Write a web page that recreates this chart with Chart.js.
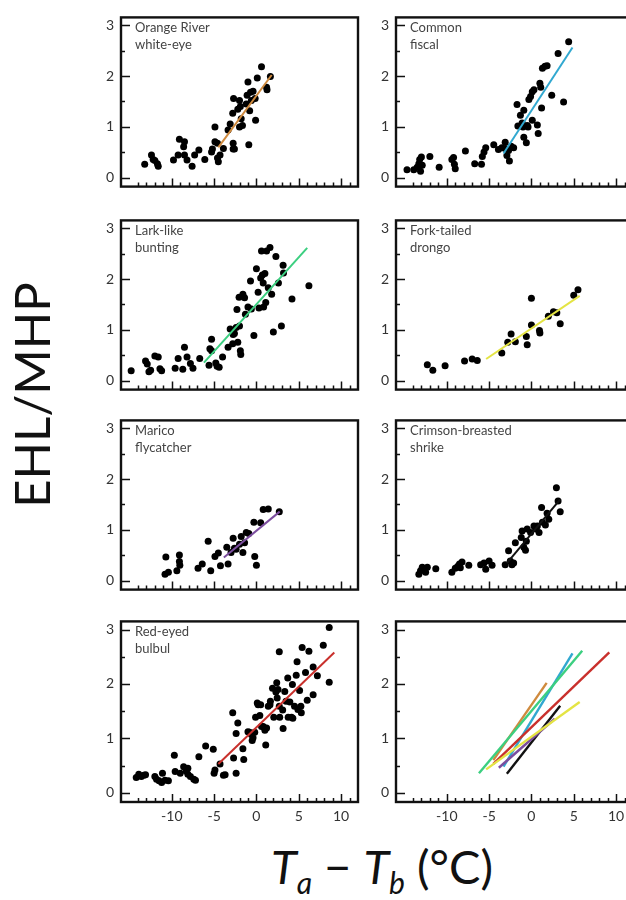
<!DOCTYPE html>
<html>
<head>
<meta charset="utf-8">
<script src="https://cdn.jsdelivr.net/npm/chart.js@4.4.1/dist/chart.umd.min.js"></script>
<style>
  html, body { margin: 0; padding: 0; background: #fff; overflow: hidden; width: 626px; height: 900px; }
  #wrap { position: relative; width: 626px; height: 900px; overflow: hidden; }
  canvas { position: absolute; }
  #ytitle {
    position: absolute; left: 31px; top: 395px;
    transform: translate(-50%, -50%) rotate(-90deg);
    font-family: Lato, sans-serif; font-size: 49px; color: #111; white-space: nowrap;
  }
  #xtitle {
    position: absolute; left: 382px; top: 843px; transform: translateX(-50%);
    font-family: Lato, sans-serif; font-size: 47px; color: #111; white-space: nowrap; line-height: 47px;
  }
  #xtitle i { font-style: italic; }
  #xtitle sub { font-size: 0.64em; font-style: italic; vertical-align: -0.32em; line-height: 0; }
</style>
</head>
<body>
<div id="wrap">
  <div id="ytitle">EHL/MHP</div>
  <div id="xtitle"><i>T</i><sub>a</sub> − <i>T</i><sub>b</sub> (°C)</div>
</div>
<script>
'use strict';
// ******* DATA ********
const xTickLabels = [-10, -5, 0, 5, 10];
const yTickLabels = [0, 1, 2, 3];

const whiteEye = [[-13.2,0.27],[-12.4,0.45],[-12.2,0.36],[-12.0,0.34],[-11.7,0.28],[-11.6,0.23],[-9.8,0.35],[-9.25,0.45],
  [-9.1,0.76],[-8.5,0.71],[-8.6,0.61],[-8.5,0.45],[-8.2,0.35],[-7.6,0.23],[-7.3,0.45],[-6.8,0.55],[-6.1,0.36],[-5.3,0.51],
  [-5.2,0.57],[-4.9,1.0],[-4.9,0.71],[-4.6,0.68],[-4.6,0.39],[-4.5,0.32],[-4.3,0.45],[-3.9,0.58],[-3.35,0.94],[-3.1,1.06],
  [-2.8,1.27],[-2.7,1.56],[-2.75,0.68],[-2.75,0.57],[-2.6,0.57],[-2.2,1.35],[-2.0,1.52],[-1.9,1.4],[-1.8,1.16],[-2.0,1.0],
  [-1.65,1.03],[-1.2,1.45],[-1.1,1.62],[-1.0,1.88],[-0.9,0.65],[-0.8,1.32],[-0.7,1.68],[-0.6,1.52],[-0.4,1.7],[-0.15,1.56],
  [-0.1,1.13],[0.1,1.96],[0.6,2.18],[1.2,1.78],[1.25,1.73],[1.65,1.99]];

const fiscal = [[-14.7,0.16],[-13.9,0.16],[-13.5,0.21],[-13.3,0.28],[-13.2,0.36],[-13.1,0.13],[-13.0,0.41],[-12.9,0.25],
  [-12.0,0.42],[-10.9,0.21],[-9.4,0.36],[-9.2,0.4],[-9.1,0.27],[-9.0,0.18],[-7.8,0.53],[-6.7,0.28],[-5.9,0.27],[-5.8,0.42],
  [-5.6,0.51],[-5.4,0.59],[-4.45,0.65],[-3.9,0.56],[-3.5,0.59],[-3.1,0.7],[-3.1,0.58],[-2.9,0.44],[-2.7,0.54],[-2.6,0.33],
  [-2.4,0.62],[-2.1,0.59],[-1.7,1.44],[-1.6,1.02],[-1.3,1.23],[-1.1,1.08],[-1.0,1.0],[-0.9,1.33],[-0.9,0.8],[-0.6,0.69],
  [-0.5,1.03],[-0.4,1.0],[-0.3,1.54],[-0.1,1.6],[0.1,1.69],[0.1,1.13],[0.3,1.73],[0.7,1.04],[0.8,0.87],[1.0,1.86],
  [1.1,1.78],[1.2,1.37],[1.3,2.15],[1.6,2.19],[1.85,2.2],[2.4,1.62],[3.15,2.44],[3.8,1.49],[4.4,2.67]];

const bunting = [[-14.8,0.2],[-13.1,0.39],[-12.9,0.33],[-12.7,0.18],[-12.5,0.21],[-12.0,0.49],[-11.6,0.47],[-11.4,0.24],
  [-11.2,0.2],[-9.6,0.25],[-9.25,0.44],[-8.7,0.23],[-8.5,0.66],[-8.2,0.47],[-7.8,0.34],[-7.5,0.25],[-6.7,0.44],[-5.6,0.31],
  [-5.5,0.63],[-5.3,0.82],[-5.3,0.59],[-4.8,0.35],[-4.65,0.29],[-4.4,0.27],[-4.0,0.47],[-3.35,0.66],[-3.1,1.02],[-2.8,0.73],
  [-2.75,0.91],[-2.6,0.93],[-2.4,1.05],[-2.3,1.4],[-2.2,0.76],[-2.0,1.08],[-1.9,0.59],[-1.85,0.52],[-2.05,1.64],[-1.6,1.7],
  [-1.4,1.63],[-1.3,1.31],[-1.0,1.45],[-0.7,1.96],[-0.6,1.41],[-0.3,0.89],[0.0,2.2],[0.2,1.74],[0.3,1.43],[0.5,2.02],
  [0.6,2.55],[0.7,2.08],[0.8,1.92],[0.85,1.45],[1.0,2.11],[1.1,1.54],[1.2,2.55],[1.4,1.83],[1.6,2.62],[1.8,1.7],
  [2.0,0.96],[2.3,2.44],[2.6,1.92],[2.95,1.08],[3.15,2.27],[3.2,2.12],[4.2,1.61],[6.2,1.87]];

const drongo = [[-12.3,0.32],[-11.65,0.21],[-10.2,0.3],[-7.9,0.39],[-7.0,0.43],[-6.4,0.4],[-3.5,0.55],[-2.8,0.76],
  [-2.4,0.92],[-1.9,0.77],[-0.6,0.87],[-0.5,0.71],[0.0,1.62],[0.0,1.1],[0.95,0.99],[1.0,0.94],[2.0,1.27],[2.6,1.36],
  [3.0,1.34],[3.4,1.12],[5.0,1.68],[5.5,1.79]];

const flycatcher = [[-10.8,0.13],[-10.7,0.47],[-10.4,0.17],[-9.4,0.2],[-9.1,0.51],[-9.1,0.38],[-9.05,0.31],[-6.9,0.25],
  [-6.4,0.33],[-5.7,0.78],[-5.4,0.2],[-4.9,0.48],[-4.5,0.55],[-4.25,0.3],[-3.5,0.66],[-3.35,0.33],[-3.0,0.56],[-2.75,0.84],
  [-2.6,0.64],[-2.4,0.62],[-2.0,0.72],[-1.8,0.87],[-1.6,0.56],[-1.4,0.75],[-1.2,0.95],[-0.9,0.93],[-0.3,1.15],[-0.2,0.48],
  [0.0,0.31],[0.5,1.14],[0.8,1.4],[1.4,1.41],[2.7,1.36]];

const shrike = [[-13.3,0.13],[-13.1,0.2],[-12.9,0.27],[-12.7,0.23],[-12.5,0.17],[-12.3,0.27],[-11.3,0.24],[-9.4,0.17],
  [-9.0,0.25],[-8.7,0.29],[-8.5,0.33],[-8.2,0.37],[-8.4,0.26],[-7.4,0.31],[-6.0,0.32],[-5.6,0.35],[-5.4,0.23],[-5.0,0.39],
  [-4.65,0.31],[-3.1,0.32],[-2.7,0.59],[-2.5,0.39],[-2.3,0.32],[-2.1,0.35],[-1.9,0.75],[-1.2,0.85],[-1.1,0.98],[-0.9,0.66],
  [-0.7,0.6],[-0.6,0.78],[-0.5,1.02],[-0.1,0.95],[0.3,1.08],[0.5,1.02],[0.7,1.08],[0.9,0.95],[1.2,1.44],[1.3,1.15],
  [1.65,1.1],[1.85,1.33],[2.05,1.21],[2.95,1.83],[3.15,1.57],[3.4,1.36]];

const bulbul = [[-14.2,0.28],[-13.9,0.34],[-13.6,0.3],[-13.3,0.32],[-13.1,0.33],[-12.0,0.3],[-11.8,0.25],[-11.5,0.22],
  [-11.2,0.19],[-11.1,0.36],[-10.8,0.23],[-10.4,0.22],[-9.7,0.69],[-9.6,0.39],[-9.0,0.36],[-8.6,0.48],[-8.3,0.4],[-8.1,0.45],
  [-8.1,0.34],[-7.8,0.3],[-7.4,0.25],[-7.2,0.23],[-6.8,0.66],[-6.0,0.86],[-5.1,0.8],[-5.0,0.36],[-4.9,0.42],[-4.3,0.53],
  [-3.9,0.32],[-3.7,0.33],[-2.8,1.47],[-2.7,0.64],[-2.4,0.36],[-2.4,1.09],[-2.2,1.28],[-1.6,0.81],[-1.5,0.61],[-1.0,1.12],
  [-0.8,1.11],[-0.6,1.07],[-0.5,0.96],[-0.4,1.01],[-0.2,1.11],[-0.1,1.39],[0.1,1.65],[0.2,1.62],[0.4,1.42],[0.5,1.62],
  [0.6,1.22],[0.8,1.22],[1.0,1.15],[1.1,0.88],[1.2,1.19],[1.4,1.59],[1.6,1.62],[1.65,1.68],[1.9,1.92],[2.05,1.39],
  [2.3,1.85],[2.4,2.02],[2.45,1.74],[2.55,1.9],[2.7,1.59],[2.7,2.59],[2.75,1.39],[3.1,1.52],[3.15,1.18],[3.35,1.86],
  [3.5,1.68],[3.7,2.11],[3.75,1.39],[3.95,1.67],[4.15,1.39],[4.25,1.99],[4.3,1.37],[4.5,1.59],[4.7,2.16],[4.8,2.41],
  [4.9,1.53],[5.1,1.88],[5.25,1.59],[5.3,1.47],[5.4,2.67],[5.8,2.21],[6.0,1.7],[6.2,2.6],[6.7,1.8],[6.7,2.31],
  [7.2,2.15],[7.9,2.71],[8.6,3.04],[8.6,2.03]];

// fitted regression lines: [start, end] as [x, y]
const whiteEyeFit = [[-4.5,0.6],[1.8,2.02]];
const fiscalFit = [[-3.3,0.48],[4.85,2.56]];
const buntingFit = [[-6.2,0.36],[6.0,2.61]];
const drongoFit = [[-5.35,0.43],[5.7,1.67]];
const flycatcherFit = [[-3.85,0.46],[2.75,1.36]];
const shrikeFit = [[-2.9,0.35],[3.4,1.6]];
const bulbulFit = [[-4.5,0.53],[9.2,2.58]];

const panels = [
  { label: ['Orange River', 'white-eye'], pts: whiteEye, fits: [[whiteEyeFit, '#cf8a3e']] },
  { label: ['Common', 'fiscal'], pts: fiscal, fits: [[fiscalFit, '#31a8d0']] },
  { label: ['Lark-like', 'bunting'], pts: bunting, fits: [[buntingFit, '#3ccf80']] },
  { label: ['Fork-tailed', 'drongo'], pts: drongo, fits: [[drongoFit, '#e4e444']] },
  { label: ['Marico', 'flycatcher'], pts: flycatcher, fits: [[flycatcherFit, '#7b4d9e']] },
  { label: ['Crimson-breasted', 'shrike'], pts: shrike, fits: [[shrikeFit, '#111111']] },
  { label: ['Red-eyed', 'bulbul'], pts: bulbul, fits: [[bulbulFit, '#c9302c']] },
  { label: [], pts: [], fits: [
    [buntingFit, '#3ccf80'], [drongoFit, '#e4e444'], [whiteEyeFit, '#cf8a3e'], [flycatcherFit, '#7b4d9e'],
    [bulbulFit, '#c9302c'], [fiscalFit, '#31a8d0'], [shrikeFit, '#111111']] }
];

// ******* LAYOUT ********
const areaTops = [6, 209, 409, 610];
const areaH = 192;

const framePlugin = {
  id: 'frame',
  afterDatasetsDraw(chart, args, opts) {
    const { ctx, chartArea: a, scales: { x, y } } = chart;
    ctx.save();
    ctx.strokeStyle = '#111';
    ctx.lineWidth = 1.5;
    ctx.beginPath();
    for (let v = -14; v <= 11; v++) {
      const px = Math.round(x.getPixelForValue(v)) + 0.5;
      const len = v % 5 === 0 ? 8 : 4;
      ctx.moveTo(px, a.bottom);
      ctx.lineTo(px, a.bottom - len);
    }
    for (let v = 0; v <= 3; v += 0.5) {
      const py = Math.round(y.getPixelForValue(v)) + 0.5;
      const len = v % 1 === 0 ? 9 : 4;
      ctx.moveTo(a.left, py);
      ctx.lineTo(a.left + len, py);
    }
    ctx.stroke();
    ctx.lineWidth = 2.4;
    ctx.strokeRect(a.left, a.top, a.right - a.left, a.bottom - a.top);
    ctx.fillStyle = '#444';
    ctx.font = '13px Lato';
    ctx.textBaseline = 'middle';
    opts.label.forEach((t, i) => ctx.fillText(t, a.left + 14, a.top + 10 + i * 17));
    ctx.restore();
  }
};

function makeChart(panel, idx) {
  const col = idx % 2;
  const row = Math.floor(idx / 2);
  const bottomRow = row === 3;
  const left = col === 0 ? 76 : 361;
  const yW = col === 0 ? 45 : 35;
  const w = col === 0 ? 286 : 276;
  const xH = bottomRow ? 30 : 4;
  const h = 4 + areaH + xH;
  const canvas = document.createElement('canvas');
  canvas.width = w;
  canvas.height = h;
  canvas.style.left = left + 'px';
  canvas.style.top = (areaTops[row] - 4) + 'px';
  canvas.style.width = w + 'px';
  canvas.style.height = h + 'px';
  document.getElementById('wrap').appendChild(canvas);

  const datasets = [{
    data: panel.pts.map(p => ({ x: p[0], y: p[1] })),
    pointRadius: 3.5,
    pointBackgroundColor: '#000',
    pointBorderWidth: 0,
    showLine: false,
    order: 2
  }];
  panel.fits.forEach(f => {
    datasets.push({
      data: f[0].map(p => ({ x: p[0], y: p[1] })),
      showLine: true,
      borderColor: f[1],
      borderWidth: idx === 7 ? 2.4 : 2,
      pointRadius: 0,
      order: 1
    });
  });

  new Chart(canvas, { // eslint-disable-line
    type: 'scatter',
    data: { datasets },
    options: {
      responsive: false,
      animation: false,
      devicePixelRatio: 1,
      layout: { padding: { top: 4, right: 4, left: 0, bottom: 0 } },
      plugins: {
        legend: { display: false },
        tooltip: { enabled: false },
        frame: { label: panel.label }
      },
      scales: {
        x: {
          type: 'linear', min: -16, max: 12,
          grid: { display: false, drawTicks: false },
          border: { display: false },
          afterBuildTicks: s => { s.ticks = xTickLabels.map(v => ({ value: v })); },
          afterFit: s => { s.height = xH; },
          ticks: {
            display: bottomRow, autoSkip: false, maxRotation: 0, padding: 6,
            color: '#333', font: { family: 'Lato', size: 14 }
          }
        },
        y: {
          type: 'linear', min: -0.17, max: 3.15,
          grid: { display: false, drawTicks: false },
          border: { display: false },
          afterBuildTicks: s => { s.ticks = yTickLabels.map(v => ({ value: v })); },
          afterFit: s => { s.width = yW; },
          ticks: {
            padding: 7, color: '#333', font: { family: 'Lato', size: 14 }
          }
        }
      }
    },
    plugins: [framePlugin]
  });
}

panels.forEach(makeChart);
</script>
</body>
</html>
